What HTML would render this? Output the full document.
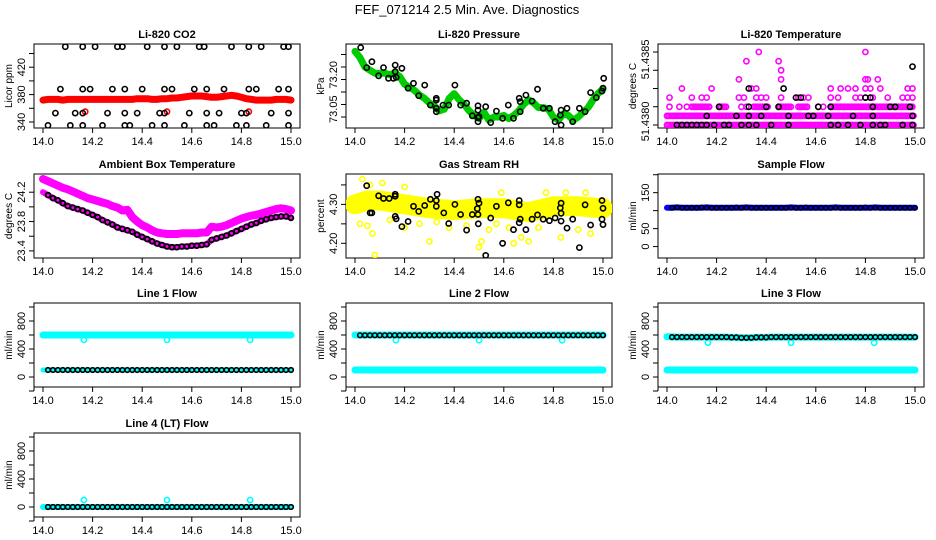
<!DOCTYPE html>
<html><head><meta charset="utf-8"><style>
html,body{margin:0;padding:0;background:#fff;}
svg{display:block;font-family:"Liberation Sans",sans-serif;}
</style></head><body>
<svg id="chart" width="936" height="540" viewBox="0 0 936 540" xmlns="http://www.w3.org/2000/svg">
<rect x="0" y="0" width="936" height="540" fill="#fff"/>
<text x="467" y="14" font-size="13" text-anchor="middle">FEF_071214  2.5 Min. Ave. Diagnostics</text>
</svg>
<script>
const grid=[14.00,14.02,14.04,14.06,14.08,14.10,14.12,14.14,14.16,14.18,14.20,14.22,14.24,14.26,14.28,14.30,14.32,14.34,14.36,14.38,14.40,14.42,14.44,14.46,14.48,14.50,14.52,14.54,14.56,14.58,14.60,14.62,14.64,14.66,14.68,14.70,14.72,14.74,14.76,14.78,14.80,14.82,14.84,14.86,14.88,14.90,14.92,14.94,14.96,14.98,15.00];
const blackTimes=[14.02,14.04,14.06,14.08,14.10,14.12,14.14,14.16,14.18,14.20,14.22,14.24,14.26,14.28,14.30,14.32,14.34,14.36,14.38,14.40,14.42,14.44,14.46,14.48,14.50,14.52,14.54,14.56,14.58,14.60,14.62,14.64,14.66,14.68,14.70,14.72,14.74,14.76,14.78,14.80,14.82,14.84,14.86,14.88,14.90,14.92,14.94,14.96,14.98,15.00];
const xTicks=[14.0,14.2,14.4,14.6,14.8,15.0];
const xTickLabels=["14.0","14.2","14.4","14.6","14.8","15.0"];
// CO2
const co2Red=[372,373,373,373,372,373,373,373,373,373,373,373,373,373,373,373,373,373,373,374,374,374,373,373,374,374,375,375,376,377,378,378,378,377,376,376,377,378,379,378,376,374,373,372,372,372,372,373,373,373,372];
const co2RedOutT=[14.17,14.50,14.83];
const co2RedOutV=[355,355,355];
const co2BlackT=[14.09,14.16,14.21,14.30,14.32,14.42,14.49,14.54,14.63,14.65,14.76,14.83,14.88,14.97,14.99,
14.07,14.16,14.19,14.28,14.33,14.40,14.49,14.52,14.61,14.66,14.73,14.83,14.86,14.95,14.99,
14.05,14.13,14.16,14.26,14.33,14.38,14.47,14.49,14.59,14.66,14.71,14.80,14.82,14.92,14.99,
14.02,14.11,14.16,14.24,14.33,14.35,14.44,14.49,14.57,14.66,14.69,14.78,14.82,14.90,14.99];
const co2BlackV=[450,450,450,450,450,450,450,450,450,450,450,450,450,450,450,
388,388,388,388,388,388,388,388,388,388,388,388,388,388,388,
353,353,353,353,353,353,353,353,353,353,353,353,353,353,353,
335,335,335,335,335,335,335,335,335,335,335,335,335,335,335];
// Pressure
const presGreen=[73.25,73.23,73.20,73.19,73.18,73.18,73.18,73.175,73.18,73.17,73.145,73.135,73.125,73.11,73.10,73.085,73.075,73.06,73.065,73.10,73.115,73.095,73.08,73.06,73.045,73.035,73.055,73.03,73.04,73.04,73.045,73.035,73.045,73.06,73.08,73.095,73.085,73.07,73.07,73.065,73.04,73.03,73.05,73.045,73.03,73.04,73.055,73.07,73.095,73.115,73.13];
const presBlackT=[14.023,14.068,14.047,14.095,14.115,14.135,14.162,14.162,14.155,14.166,14.189,14.214,14.236,14.257,14.281,14.304,14.328,14.328,14.328,14.328,14.355,14.378,14.403,14.426,14.45,14.473,14.496,14.496,14.496,14.496,14.5,14.527,14.547,14.57,14.595,14.618,14.639,14.662,14.666,14.666,14.689,14.714,14.736,14.759,14.784,14.807,14.828,14.831,14.831,14.855,14.878,14.905,14.928,14.95,14.973,14.996,15.0,15.003];
const presBlackV=[73.262,73.217,73.198,73.172,73.198,73.164,73.206,73.185,73.164,73.167,73.196,73.132,73.148,73.108,73.142,73.078,73.100,73.094,73.068,73.057,73.078,73.078,73.142,73.078,73.084,73.044,73.076,73.062,73.038,73.025,73.041,73.073,73.022,73.059,73.036,73.078,73.036,73.100,73.089,73.057,73.110,73.091,73.129,73.068,73.068,73.025,73.046,73.062,73.014,73.068,73.025,73.068,73.057,73.118,73.102,73.123,73.132,73.164];
// Li-820 temperature
const tempPinkRunLevel=[51.43800,51.43805,51.43810,51.43810,51.43810,51.43810,51.43810,51.43810];
const tempPinkRunStart=[14.00,14.00,14.10,14.21,14.35,14.45,14.53,14.66];
const tempPinkRunEnd=[15.00,15.00,14.17,14.24,14.41,14.50,14.57,14.99];
const tempPinkPtT=[14.01,14.05,14.08,14.30,14.32,14.61,14.63,14.01,14.10,14.14,14.16,14.29,14.31,14.36,14.38,14.40,14.46,14.53,14.55,14.57,14.66,14.69,14.76,14.78,14.80,14.83,14.89,14.95,14.97,14.99,14.06,14.18,14.34,14.36,14.66,14.70,14.73,14.76,14.80,14.82,14.86,14.97,14.99,14.29,14.46,14.80,14.81,14.85,14.46,14.32,14.45,14.37,14.80];
const tempPinkPtV=[51.4381,51.4381,51.4381,51.4381,51.4381,51.4381,51.4381,51.43815,51.43815,51.43815,51.43815,51.43815,51.43815,51.43815,51.43815,51.43815,51.43815,51.43815,51.43815,51.43815,51.43815,51.43815,51.43815,51.43815,51.43815,51.43815,51.43815,51.43815,51.43815,51.43815,51.4382,51.4382,51.4382,51.4382,51.4382,51.4382,51.4382,51.4382,51.4382,51.4382,51.4382,51.4382,51.4382,51.43825,51.43825,51.43825,51.43825,51.43825,51.4383,51.43835,51.43835,51.4384,51.4384];
const tempBlackT=[14.04,14.06,14.08,14.10,14.12,14.14,14.16,14.19,14.23,14.25,14.30,14.33,14.36,14.42,14.49,14.66,14.69,14.73,14.78,14.83,14.86,14.88,14.95,14.99,14.16,14.28,14.33,14.38,14.49,14.57,14.59,14.65,14.75,14.83,14.99,14.21,14.33,14.40,14.45,14.61,14.66,14.83,14.90,14.92,14.98,14.52,14.54,14.80,14.82,14.33,14.47,14.99];
const tempBlackV=[51.438,51.438,51.438,51.438,51.438,51.438,51.438,51.438,51.438,51.438,51.438,51.438,51.438,51.438,51.438,51.438,51.438,51.438,51.438,51.438,51.438,51.438,51.438,51.438,51.43805,51.43805,51.43805,51.43805,51.43805,51.43805,51.43805,51.43805,51.43805,51.43805,51.43805,51.4381,51.4381,51.4381,51.4381,51.4381,51.4381,51.4381,51.4381,51.4381,51.4381,51.43815,51.43815,51.43815,51.43815,51.4382,51.4382,51.43832];
// Ambient
const ambUpper=[24.38,24.35,24.32,24.29,24.26,24.24,24.21,24.18,24.15,24.12,24.10,24.08,24.06,24.04,24.01,23.99,23.95,23.96,23.86,23.80,23.75,23.72,23.68,23.65,23.64,23.63,23.63,23.63,23.64,23.64,23.64,23.64,23.65,23.65,23.73,23.72,23.73,23.75,23.78,23.81,23.84,23.86,23.88,23.89,23.91,23.93,23.95,23.97,23.98,23.97,23.95];
const ambLower=[24.20,24.16,24.12,24.09,24.05,24.01,23.99,23.97,23.95,23.92,23.89,23.86,23.82,23.79,23.76,23.72,23.70,23.68,23.66,23.62,23.59,23.56,23.53,23.50,23.48,23.46,23.45,23.45,23.46,23.46,23.47,23.47,23.48,23.49,23.55,23.57,23.59,23.61,23.64,23.67,23.70,23.73,23.76,23.78,23.81,23.83,23.85,23.86,23.87,23.87,23.85];
// RH
const rhBandT=[14.0,14.05,14.1,14.15,14.2,14.3,14.4,14.5,14.6,14.65,14.7,14.8,14.9,15.0];
const rhBandV=[4.30,4.31,4.31,4.305,4.30,4.29,4.285,4.29,4.29,4.285,4.28,4.295,4.295,4.29];
const rhYellowT=[14.08,14.07,14.30,14.50,14.51,14.64,14.67,14.70,14.83,14.02,14.05,14.20,14.38,14.45,14.54,14.62,14.90,14.95,14.06,14.03,14.11,14.20,14.59,14.77,14.85,14.93,14.26,14.74,14.14,14.33,14.57];
const rhYellowV=[4.17,4.225,4.205,4.19,4.205,4.20,4.215,4.205,4.215,4.25,4.245,4.24,4.24,4.245,4.235,4.24,4.235,4.225,4.35,4.365,4.355,4.345,4.33,4.33,4.33,4.33,4.25,4.24,4.26,4.255,4.25];
const rhBlackT=[14.047,14.068,14.095,14.115,14.138,14.162,14.061,14.162,14.166,14.162,14.189,14.214,14.236,14.257,14.281,14.304,14.328,14.331,14.328,14.358,14.378,14.403,14.426,14.45,14.473,14.496,14.5,14.493,14.496,14.497,14.527,14.547,14.57,14.595,14.618,14.639,14.662,14.662,14.666,14.662,14.689,14.714,14.736,14.759,14.784,14.807,14.828,14.831,14.831,14.831,14.855,14.878,14.905,14.928,14.95,14.996,15.0,14.996,15.0];
const rhBlackV=[4.348,4.278,4.322,4.315,4.315,4.326,4.278,4.321,4.263,4.269,4.243,4.256,4.295,4.282,4.297,4.313,4.310,4.326,4.295,4.278,4.251,4.300,4.274,4.234,4.274,4.313,4.303,4.289,4.274,4.250,4.169,4.265,4.295,4.200,4.304,4.235,4.299,4.310,4.262,4.253,4.235,4.262,4.273,4.262,4.258,4.265,4.291,4.303,4.277,4.257,4.239,4.262,4.189,4.299,4.247,4.262,4.248,4.310,4.290];
// Flows
const sampleBlue=[108,108,109,108,108,108,108,108,109,108,108,108,108,108,108,108,109,108,108,108,108,108,108,108,108,109,108,108,108,108,108,108,108,108,109,108,108,108,108,108,108,108,109,108,108,108,108,108,108,108,108];
const sampleBlack=[108,109,108,108,108,108,109,108,108,108,108,108,108,109,108,108,108,108,108,108,108,108,108,108,108,108,108,109,108,108,108,108,108,108,108,108,108,108,108,109,108,108,108,108,108,108,108,108,108,108];
const line1Cyan=[600,600,600,600,600,600,600,600,600,600,600,600,600,600,600,600,600,600,600,600,600,600,600,600,600,600,600,600,600,600,600,600,600,600,600,600,600,600,600,600,600,600,600,600,600,600,600,600,600,600,600];
const line1Black=[100,100,100,100,100,100,100,100,100,100,100,100,100,100,100,100,100,100,100,100,100,100,100,100,100,100,100,100,100,100,100,100,100,100,100,100,100,100,100,100,100,100,100,100,100,100,100,100,100,100];
const line2CyanLow=[100,100,100,100,100,100,100,100,100,100,100,100,100,100,100,100,100,100,100,100,100,100,100,100,100,100,100,100,100,100,100,100,100,100,100,100,100,100,100,100,100,100,100,100,100,100,100,100,100,100,100];
const line2Black=[595,595,595,595,595,595,595,595,595,595,595,595,595,595,595,595,595,595,595,595,595,595,595,595,595,595,595,595,595,595,595,595,595,595,595,595,595,595,595,595,595,595,595,595,595,595,595,595,595,595];
const line3Cyan=[575,572,570,570,570,570,570,570,570,570,570,570,570,565,565,560,560,560,565,565,565,570,570,570,570,570,570,570,570,570,570,570,570,570,570,570,570,570,570,570,570,570,570,570,570,570,570,570,570,570,570];
const line3Black=[570,570,570,570,570,570,570,570,570,570,570,570,565,565,560,560,560,565,565,565,570,570,570,570,570,570,570,570,570,570,570,570,570,570,570,570,570,570,570,570,570,570,570,570,570,570,570,570,570,570];
const line3CyanLow=[100,100,100,100,100,100,100,100,100,100,100,100,100,100,100,100,100,100,100,100,100,100,100,100,100,100,100,100,100,100,100,100,100,100,100,100,100,100,100,100,100,100,100,100,100,100,100,100,100,100,100];
const line4Black=[0,0,0,0,0,0,0,0,0,0,0,0,0,0,0,0,0,0,0,0,0,0,0,0,0,0,0,0,0,0,0,0,0,0,0,0,0,0,0,0,0,0,0,0,0,0,0,0,0,0];
const line4Cyan=[0,0,0,0,0,0,0,0,0,0,0,0,0,0,0,0,0,0,0,0,0,0,0,0,0,0,0,0,0,0,0,0,0,0,0,0,0,0,0,0,0,0,0,0,0,0,0,0,0,0,0];
const flowOutT=[14.165,14.50,14.835];
const line1OutV=[530,530,530];
const line2OutV=[525,525,525];
const line3OutV=[490,490,490];
const line4OutV=[100,100,100];

const NS="http://www.w3.org/2000/svg";
const svg=document.getElementById('chart');
function mk(tag,attrs,parent){const e=document.createElementNS(NS,tag);for(const k in attrs)e.setAttribute(k,attrs[k]);(parent||svg).appendChild(e);return e;}
const COLX=[34,346,658],ROWY=[44,174,303,433],W=266,H=84;

function panel(name,col,row,title,ylab,dom,yt,ylbls,ylblVals){
  const L=COLX[col],T=ROWY[row];
  const g=mk('g',{});
  
  
  const sx=t=>L+9+(t-14)*248;
  const sy=v=>T+(dom[1]-v)/(dom[1]-dom[0])*H;
  const tt=mk('text',{x:L+W/2,y:T-6,'font-size':11,'font-weight':'bold','text-anchor':'middle'},g);
  tt.textContent=title;
  
  
  const box=mk('rect',{x:L,y:T,width:W,height:H,fill:'none',stroke:'#000','stroke-width':1},g);
  
  
  const xa=mk('g',{},g);
  
  
  mk('line',{x1:sx(xTicks[0]),x2:sx(xTicks[xTicks.length-1]),y1:T+H,y2:T+H,stroke:'#000'},xa);
  xTicks.forEach((t,i)=>{
    mk('line',{x1:sx(t),x2:sx(t),y1:T+H,y2:T+H+5,stroke:'#000'},xa);
    const tx=mk('text',{x:sx(t),y:T+H+17,'font-size':11,'text-anchor':'middle'},xa);
    tx.textContent=xTickLabels[i];
    
    
  });
  const ya=mk('g',{},g);
  
  
  mk('line',{x1:L,x2:L,y1:sy(yt[0]),y2:sy(yt[yt.length-1]),stroke:'#000'},ya);
  yt.forEach(v=>mk('line',{x1:L-5,x2:L,y1:sy(v),y2:sy(v),stroke:'#000'},ya));
  ylbls.forEach((s,i)=>{
    const y=sy(ylblVals[i]);const x=L-9;
    const tx=mk('text',{x:x,y:y,'font-size':11,'text-anchor':'middle',transform:`rotate(-90 ${x} ${y})`},ya);
    tx.textContent=s;
    
    
  });
  const yx=L-22,yy=T+H/2;
  const yl=mk('text',{x:yx,y:yy,'font-size':10,'text-anchor':'middle',transform:`rotate(-90 ${yx} ${yy})`},g);
  yl.textContent=ylab;
  
  
  const clipId='c'+col+row;
  const cp=mk('clipPath',{id:clipId},g);mk('rect',{x:L,y:T,width:W,height:H},cp);
  const plot=mk('g',{'clip-path':`url(#${clipId})`},g);
  return {sx,sy,g:plot};
}
function band(p,ts,vs,color,w,nm){
  const n=Math.min(ts.length,vs.length);let pts=[];
  for(let i=0;i<n;i++)pts.push(p.sx(ts[i]).toFixed(1)+','+p.sy(vs[i]).toFixed(1));
  const e=mk('polyline',{points:pts.join(' '),fill:'none',stroke:color,'stroke-width':w,'stroke-linejoin':'round','stroke-linecap':'round'},p.g);
  
  
}
function pts(p,ts,vs,color,nm,r,sw){
  const n=Math.min(ts.length,vs.length);
  const gg=mk('g',{},p.g);
  
  
  for(let i=0;i<n;i++){
    const c=mk('circle',{cx:p.sx(ts[i]).toFixed(1),cy:p.sy(vs[i]).toFixed(1),r:r||2.6,fill:'none',stroke:color,'stroke-width':sw||1.6},gg);
    
    
  }
}
const RED='#ff0000',MAG='#ff00ff',GRN='#00cc00',YEL='#ffff00',CY='#00ffff',BLU='#0000ff';
const flowTicks=[-200,0,200,400,600,800,1000],flowLbl=['0','400','800'],flowLblV=[0,400,800];

// CO2
let p=panel('co2',0,0,'Li-820 CO2','Licor ppm',[331.2,453.9],[340,360,380,400,420,440],['340','380','420'],[340,380,420]);
band(p,grid,co2Red,RED,7,'co2-red-series');
pts(p,co2RedOutT,co2RedOutV,RED,'co2-red-outliers');
pts(p,co2BlackT,co2BlackV,'#000','co2-black-series');
// Pressure
p=panel('pressure',1,0,'Li-820 Pressure','kPa',[73.0048,73.2736],[73.04,73.08,73.12,73.16,73.20,73.24],['73.20','73.05'],[73.175,73.065]);
band(p,grid,presGreen,GRN,7,'pressure-green-series');
pts(p,presBlackT,presBlackV,'#000','pressure-black-series');
// Temperature
p=panel('li820-temp',2,0,'Li-820 Temperature','degrees C',[51.4379836,51.438444],[51.4380,51.4381,51.4382,51.4383,51.4384],['51.4380','51.4385'],[51.43802,51.43836]);
{
 const n=tempPinkRunLevel.length;let ts=[],vs=[];
 for(let i=0;i<n;i++){for(let t=tempPinkRunStart[i];t<=tempPinkRunEnd[i]+1e-9;t+=0.007){ts.push(t);vs.push(tempPinkRunLevel[i]);}}
 pts(p,ts,vs,MAG,'temp-magenta-series');
 pts(p,tempPinkPtT,tempPinkPtV,MAG,'temp-magenta-sparse');
 pts(p,tempBlackT,tempBlackV,'#000','temp-black-series');
}
// Ambient
p=panel('ambient',0,1,'Ambient Box Temperature','degrees C',[23.303,24.448],[23.4,23.6,23.8,24.0,24.2],['23.4','23.8','24.2'],[23.4,23.8,24.2]);
band(p,grid,ambUpper,MAG,8,'ambient-upper-series');
band(p,grid,ambLower,MAG,6,'ambient-lower-series');
pts(p,grid.slice(1),ambLower.slice(1),'#000','ambient-black-series',2.4,1.8);
// RH
p=panel('rh',1,1,'Gas Stream RH','percent',[4.1623,4.378],[4.20,4.25,4.30,4.35],['4.20','4.30'],[4.20,4.30]);
band(p,rhBandT,rhBandV,YEL,20,'rh-yellow-band');
pts(p,rhYellowT,rhYellowV,YEL,'rh-yellow-series');
pts(p,rhBlackT,rhBlackV,'#000','rh-black-series');
// Sample flow
p=panel('sample-flow',2,1,'Sample Flow','ml/min',[-31.8,202],[0,50,100,150,200],['0','50','150'],[0,50,150]);
band(p,grid,sampleBlue,BLU,6,'sample-blue-series');
pts(p,blackTimes,sampleBlack,'#000','sample-black-series',2.2,1.5);
// Line 1
p=panel('line1',0,2,'Line 1 Flow','ml/min',[-143,1057],flowTicks,flowLbl,flowLblV);
band(p,grid,line1Cyan,CY,7,'line1-cyan-series');
pts(p,flowOutT,line1OutV,CY,'line1-cyan-outliers');
band(p,grid,line2CyanLow,CY,5,'line1-cyan-low');
pts(p,blackTimes,line1Black,'#000','line1-black-series',2.3,1.6);
// Line 2
p=panel('line2',1,2,'Line 2 Flow','ml/min',[-143,1057],flowTicks,flowLbl,flowLblV);
band(p,grid,line1Cyan,CY,7,'line2-cyan-high');
pts(p,flowOutT,line2OutV,CY,'line2-cyan-outliers');
band(p,grid,line2CyanLow,CY,7,'line2-cyan-low');
pts(p,blackTimes,line2Black,'#000','line2-black-series',2.3,1.6);
// Line 3
p=panel('line3',2,2,'Line 3 Flow','ml/min',[-143,1057],flowTicks,flowLbl,flowLblV);
band(p,grid,line3Cyan,CY,7,'line3-cyan-high');
pts(p,flowOutT,line3OutV,CY,'line3-cyan-outliers');
band(p,grid,line3CyanLow,CY,7,'line3-cyan-low');
pts(p,blackTimes,line3Black,'#000','line3-black-series',2.3,1.6);
// Line 4
p=panel('line4',0,3,'Line 4 (LT) Flow','ml/min',[-143,1057],flowTicks,flowLbl,flowLblV);
band(p,grid,line4Cyan,CY,6,'line4-cyan-series');
pts(p,flowOutT,line4OutV,CY,'line4-cyan-outliers');
pts(p,blackTimes,line4Black,'#000','line4-black-series',2.3,1.6);
</script>
</body></html>
